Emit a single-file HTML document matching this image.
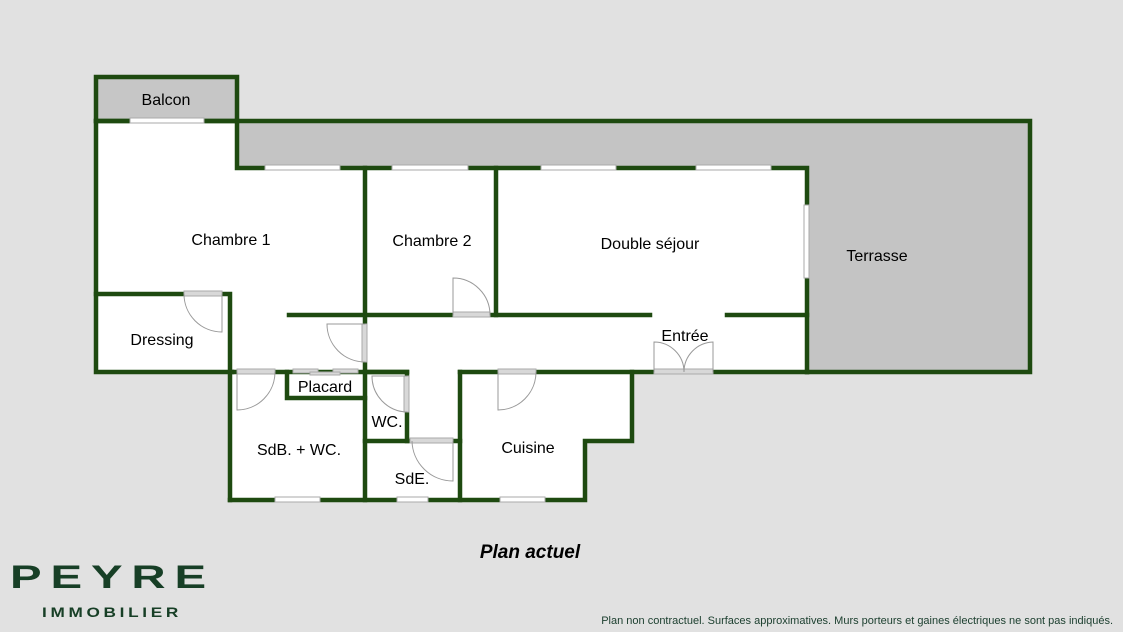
<!DOCTYPE html>
<html><head><meta charset="utf-8"><style>
html,body{margin:0;padding:0;background:#e1e1e1;}
svg{display:block}
text{font-family:"Liberation Sans",Arial,sans-serif;fill:#000}
</style></head><body>
<svg width="1123" height="632" viewBox="0 0 1123 632" xmlns="http://www.w3.org/2000/svg">
<rect width="1123" height="632" fill="#e1e1e1"/>
<rect x="96" y="77" width="141" height="44" fill="#c6c6c6"/>
<polygon points="237,121 1030,121 1030,372 807,372 807,168 237,168" fill="#c4c4c4"/>
<polygon points="96,121 237,121 237,168 807,168 807,372 632,372 632,441 585,441 585,500 232,500 232,372 96,372" fill="#fff"/>
<g stroke="#1e4a10" stroke-width="4.5" fill="none" stroke-linecap="square">
<rect x="96" y="77" width="141" height="44"/>
<polyline points="237,121 1030,121 1030,372 807,372"/>
<polyline points="96,121 96,372 232,372"/>
<line x1="96" y1="121" x2="237" y2="121"/>
<polyline points="237,121 237,168 807,168 807,372"/>
<line x1="365" y1="168" x2="365" y2="500"/>
<line x1="496" y1="168" x2="496" y2="315"/>
<line x1="289" y1="315" x2="650" y2="315"/>
<line x1="727" y1="315" x2="807" y2="315"/>
<polyline points="96,294 230,294 230,500"/>
<line x1="232" y1="372" x2="407" y2="372"/>
<polyline points="287,372 287,398 365,398"/>
<polyline points="365,372 407,372 407,441"/>
<line x1="365" y1="441" x2="460" y2="441"/>
<line x1="460" y1="372" x2="807" y2="372"/>
<line x1="460" y1="372" x2="460" y2="500"/>
<polyline points="632,372 632,441 585,441 585,500 230,500"/>
</g>
<g fill="#d8d8d8" stroke="#aaa" stroke-width="1">
<rect x="130" y="118" width="74" height="5" fill="#fff"/>
<rect x="265" y="165" width="75" height="5" fill="#fff"/>
<rect x="392" y="165" width="76" height="5" fill="#fff"/>
<rect x="541" y="165" width="75" height="5" fill="#fff"/>
<rect x="696" y="165" width="75" height="5" fill="#fff"/>
<rect x="804" y="205" width="5" height="73" fill="#fff"/>
<rect x="275" y="497" width="45" height="5" fill="#fff"/>
<rect x="397" y="497" width="31" height="5" fill="#fff"/>
<rect x="500" y="497" width="45" height="5" fill="#fff"/>
<rect x="184" y="291" width="38" height="5"/>
<rect x="453" y="312" width="37" height="5"/>
<rect x="362" y="324" width="5" height="38"/>
<rect x="237" y="369" width="38" height="5"/>
<rect x="293" y="369" width="25" height="4"/>
<rect x="333" y="369" width="25" height="4"/>
<rect x="310" y="372" width="30" height="3"/>
<rect x="404" y="376" width="5" height="36"/>
<rect x="410" y="438" width="43" height="5"/>
<rect x="498" y="369" width="38" height="5"/>
<rect x="654" y="369" width="59" height="5"/>
</g>
<g fill="none" stroke="#999" stroke-width="1">
<path d="M222,294 L222,332 A38,38 0 0 1 184,294"/>
<path d="M453,315 L453,278 A37,37 0 0 1 490,315"/>
<path d="M365,324 L327,324 A38,38 0 0 0 365,362"/>
<path d="M237,372 L237,410 A38,38 0 0 0 275,372"/>
<path d="M407,376 L372,376 A36,36 0 0 0 407,412"/>
<path d="M453,441 L453,481 A41,41 0 0 1 412,441"/>
<path d="M498,372 L498,410 A38,38 0 0 0 536,372"/>
<path d="M654,372 L654,342 A30,30 0 0 1 684,372"/>
<path d="M713,372 L713,342 A30,30 0 0 0 684,372"/>
</g>
<g font-size="16">
<text x="166" y="105" text-anchor="middle">Balcon</text>
<text x="231" y="245" text-anchor="middle">Chambre 1</text>
<text x="432" y="246" text-anchor="middle">Chambre 2</text>
<text x="650" y="249" text-anchor="middle">Double séjour</text>
<text x="877" y="261" text-anchor="middle">Terrasse</text>
<text x="685" y="341" text-anchor="middle">Entrée</text>
<text x="162" y="345" text-anchor="middle">Dressing</text>
<text x="325" y="392" text-anchor="middle">Placard</text>
<text x="387" y="427" text-anchor="middle">WC.</text>
<text x="299" y="455" text-anchor="middle">SdB. + WC.</text>
<text x="412" y="484" text-anchor="middle">SdE.</text>
<text x="528" y="453" text-anchor="middle">Cuisine</text>
</g>
<text x="530" y="558" text-anchor="middle" font-size="19" font-weight="bold" font-style="italic">Plan actuel</text>
<text x="10" y="588" font-size="32" font-weight="bold" letter-spacing="6" textLength="205" lengthAdjust="spacingAndGlyphs" style="fill:#173f26">PEYRE</text>
<text x="42" y="617" font-size="14" font-weight="bold" letter-spacing="3" textLength="140" lengthAdjust="spacingAndGlyphs" style="fill:#173f26">IMMOBILIER</text>
<text x="1113" y="624" text-anchor="end" font-size="11" style="fill:#1d4030">Plan non contractuel. Surfaces approximatives. Murs porteurs et gaines électriques ne sont pas indiqués.</text>
</svg>
</body></html>
